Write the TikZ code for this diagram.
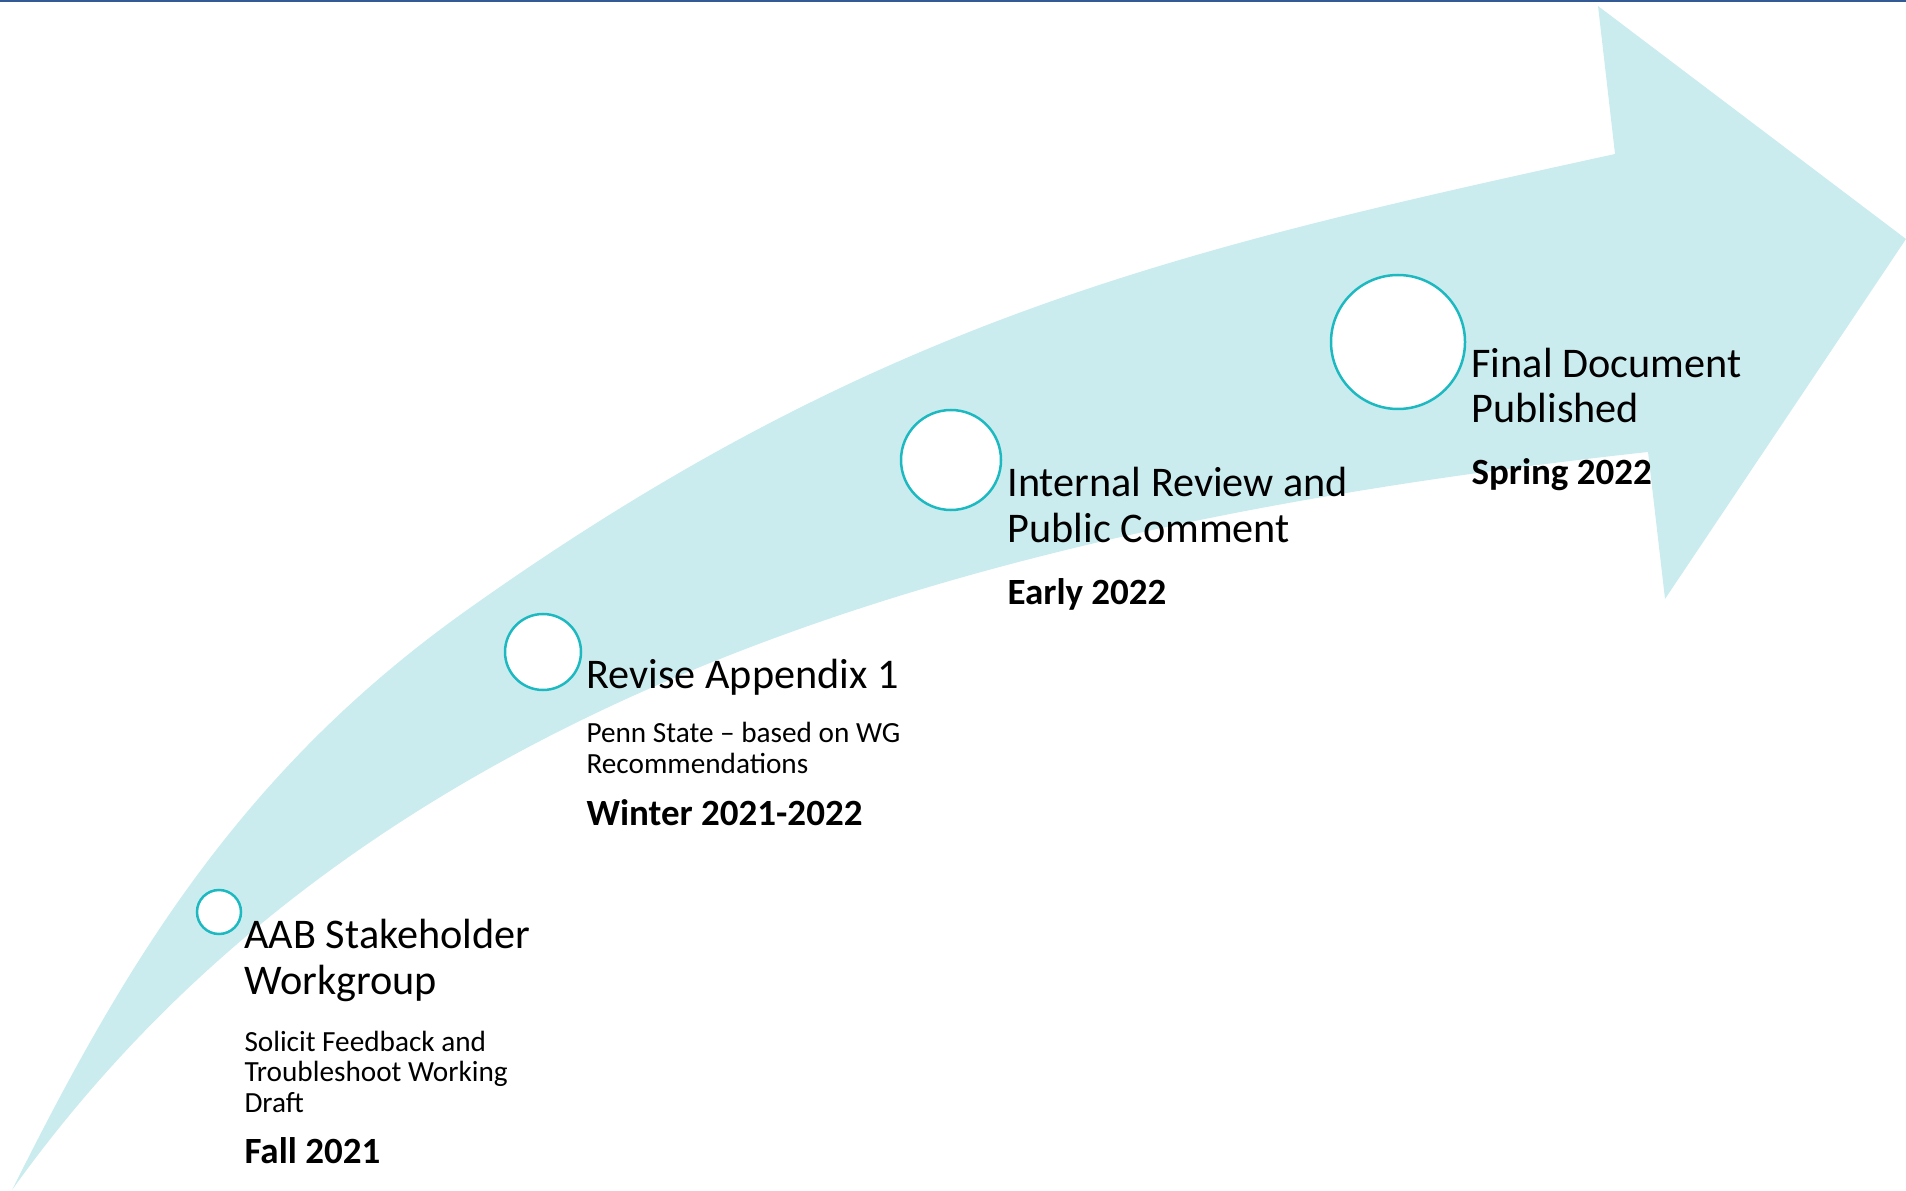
\documentclass[tikz,border=0pt]{standalone}
\usepackage{fontspec}
\setmainfont{Carlito}
\usepackage{tikz}

\begin{document}
\begin{tikzpicture}[x=0.4pt,y=0.4pt,yscale=-1,xscale=1,
    ring/.style={circle,draw={rgb, 255:red, 28; green, 185; blue, 193},line width=1pt,fill=white,inner sep=0pt},
    title/.style={anchor=base west,inner sep=0pt,align=left,font=\fontsize{16.9}{18.3}\selectfont},
    note/.style={anchor=base west,inner sep=0pt,align=left,font=\fontsize{11.7}{12.2}\selectfont},
    when/.style={anchor=base west,inner sep=0pt,font=\bfseries\fontsize{14.8}{17}\selectfont}]
    \useasboundingbox (0,0) rectangle (1906,1191);

    %Shape: top rule
    \fill [color={rgb, 255:red, 52; green, 90; blue, 150 }] (0,0) rectangle (1906,2.5);
    %Shape: Curved arrow
    \fill [color={rgb, 255:red, 203; green, 236; blue, 239 }] (12,1190) .. controls (124,966) and (239,772) .. (467,610) .. controls (875,320) and (1175,250) .. (1615,154) -- (1598,6) -- (1906,239) -- (1665,599) -- (1648,452) .. controls (952,528) and (360,704) .. (12,1190) -- cycle ;

    %Shape: Circles
    \node [ring,minimum size=17.6pt] (ring1) at (219,912) {};
    \node [ring,minimum size=30.4pt] (ring2) at (543,652) {};
    \node [ring,minimum size=40pt] (ring3) at (951,460) {};
    \node [ring,minimum size=53.6pt] (ring4) at (1398,342) {};

    % Text Node (multi-line nodes sit on their last line)
    \node [title] (title1) at (244,994) {AAB Stakeholder\\Workgroup};
    \node [note] (note1) at (244,1112) {Solicit Feedback and\\Troubleshoot Working\\Draft};
    \node [when] (when1) at (244,1163) {Fall 2021};
    % Text Node
    \node [title] (title2) at (586,688) {Revise Appendix 1};
    \node [note] (note2) at (586,773) {Penn State -- based on WG\\Recommendations};
    \node [when] (when2) at (586,825) {Winter 2021-2022};
    % Text Node
    \node [title] (title3) at (1007,542) {Internal Review and\\Public Comment};
    \node [when] (when3) at (1007,604) {Early 2022};
    % Text Node
    \node [title] (title4) at (1471,423) {Final Document\\Published};
    \node [when] (when4) at (1471,485) {Spring 2022};

\end{tikzpicture}
\end{document}
